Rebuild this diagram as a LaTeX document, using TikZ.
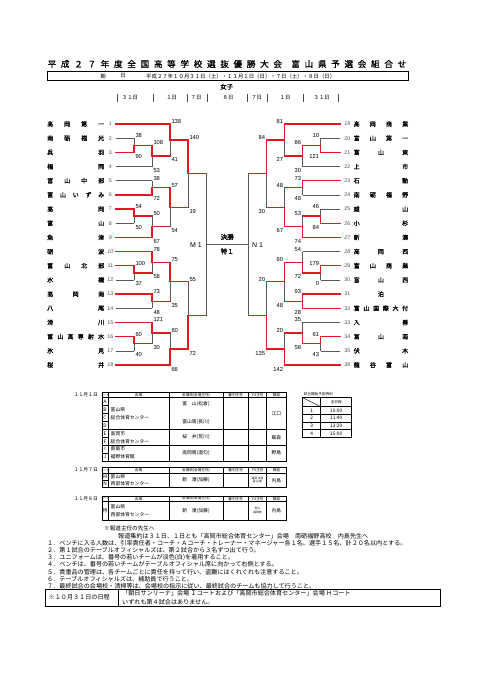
\documentclass[tikz,border=0pt]{standalone}
\usepackage{fontspec}
\setmainfont{Liberation Sans}
\newfontfamily\jp{Noto Sans CJK JP}
\newfontfamily\jpb[FakeBold=1.0]{Noto Sans CJK JP}
\definecolor{wred}{RGB}{228,24,32}
\definecolor{lgray}{RGB}{90,90,90}
\newcount\scn
% match: #1 side L/R, #2 x of join, #3 top y, #4 bottom y, #5 winner t/b, #6 top score, #7 bottom score
\newcommand\M[7]{%
  \pgfmathsetmacro\ym{(#3+#4)/2}%
  \if#1L\def\dx{18}\def\anct{south west}\def\ancb{north west}\def\lx{1.3}%
  \else\def\dx{-18}\def\anct{south east}\def\ancb{north east}\def\lx{-1.3}\fi
  \if#5t
    \draw[lose] (#2,\ym) -- (#2,#4);
    \draw[win] (#2,#3) -- (#2,\ym) -- ++(\dx,0);
  \else
    \draw[lose] (#2,#3) -- (#2,\ym);
    \draw[win] (#2,#4) -- (#2,\ym) -- ++(\dx,0);
  \fi
  \global\advance\scn by 1
  \node[score,anchor=\anct,name=sa\the\scn] at ([xshift=\lx,yshift=0.3]#2,#3) {#6};
  \node[score,anchor=\ancb,name=sb\the\scn] at ([xshift=\lx,yshift=-1.8]#2,#4) {#7};
}
\begin{document}
\begin{tikzpicture}[x=1pt,y=-1pt,
 win/.style={draw=wred,line width=1.3pt,line cap=rect},
 lose/.style={draw=lgray,line width=0.6pt},
 score/.style={font=\fontsize{5.8}{6}\selectfont,inner sep=0pt},
 tname/.style={font=\jpb\fontsize{6.0}{7}\selectfont,inner sep=0pt,anchor=west},
 tnum/.style={font=\fontsize{5.3}{6}\selectfont,inner sep=0pt,text=black!70},
 dtext/.style={font=\jp\fontsize{5.4}{6}\selectfont,inner sep=0pt},
 cell/.style={font=\jp\fontsize{4.8}{5.5}\selectfont,inner sep=0pt},
 hcell/.style={font=\jp\fontsize{3.6}{4}\selectfont,inner sep=0pt},
 tiny/.style={font=\jp\fontsize{2.8}{3.2}\selectfont,inner sep=0pt,align=center},
 note/.style={font=\jp\fontsize{6.1}{6.5}\selectfont,inner sep=0pt,anchor=west},
 tb/.style={line width=0.9pt},
 tt/.style={line width=0.45pt}]
\useasboundingbox (0,0) rectangle (481,680);
\fill[white] (0,0) rectangle (481,680);

% ---------- title ----------
\node[anchor=west,inner sep=0pt,font=\jpb\fontsize{8.6}{9}\selectfont] (title) at (47.5,64) {\makebox[358.5pt][s]{平\hfill 成\hfill ２\hfill ７\hfill 年\hfill 度\hfill 全\hfill 国\hfill 高\hfill 等\hfill 学\hfill 校\hfill 選\hfill 抜\hfill 優\hfill 勝\hfill 大\hfill 会\hfill\hfill 富\hfill 山\hfill 県\hfill 予\hfill 選\hfill 会\hfill 組\hfill 合\hfill せ}};
\draw[line width=0.9pt] (47,71.5) rectangle (408,80.3);
\node[dtext] (k1) at (103,76) {期};
\node[dtext] (k2) at (123,76) {日};
\node[dtext,anchor=west] (dates) at (146,76) {平成２７年１０月３１日（土）・１１月１日（日）・７日（土）・８日（日）};
\node[font=\jpb\fontsize{6.5}{7}\selectfont,inner sep=0pt] (joshi) at (226.7,86.7) {女子};
\foreach \xx in {116.7,152.7,186.7,206.7,247.3,266.7,303.3,338.3}
  \draw[line width=0.4pt,black!70] (\xx,94) -- (\xx,101.5);
\foreach \xx/\tx [count=\k] in {130/３１日,171.7/１日,196/７日,228/８日,256.7/７日,285/１日,321.7/３１日}
  \node[dtext,name=day\k] at (\xx,97.8) {\tx};

% ---------- team names ----------
\foreach \i/\nm/\f in {1/{高\hfill 岡\hfill 第\hfill 一}/1,2/{南\hfill 砺\hfill 福\hfill 光}/0,3/{呉\hfill 羽}/0,4/{福\hfill 岡}/0,5/{富\hfill 山\hfill 中\hfill 部}/0,6/{富\hfill 山\hfill い\hfill ず\hfill み}/0,7/{高\hfill 岡}/0,8/{富\hfill 山}/0,9/{魚\hfill 津}/1,10/{砺\hfill 波}/1,11/{富\hfill 山\hfill 北\hfill 部}/0,12/{水\hfill 橋}/0,13/{高\hfill 岡\hfill 南}/0,14/{八\hfill 尾}/0,15/{滑\hfill 川}/0,16/{富\hfill 山\hfill 高\hfill 専\hfill 射\hfill 水}/0,17/{氷\hfill 見}/0,18/{桜\hfill 井}/1}
{\pgfmathsetmacro\yy{124+(\i-1)*14.176}
 \node[tname,name=ln\i] at (47,\yy) {\makebox[57pt][s]{\nm}};
 \node[tnum,name=lk\i] at (110.3,\yy) {\ifnum\f=1 \itshape\fi\i};}
\foreach \i/\nm/\f in {19/{高\hfill 岡\hfill 商\hfill 業}/1,20/{富\hfill 山\hfill 第\hfill 一}/0,21/{富\hfill 山\hfill 東}/0,22/{上\hfill 市}/0,23/{石\hfill 動}/0,24/{南\hfill 砺\hfill 福\hfill 野}/0,25/{雄\hfill 山}/0,26/{小\hfill 杉}/0,27/{新\hfill 湊}/1,28/{高\hfill 岡\hfill 西}/1,29/{富\hfill 山\hfill 商\hfill 業}/0,30/{富\hfill 山\hfill 西}/0,31/{\hfill 泊\hfill}/0,32/{富\hfill 山\hfill 国\hfill 際\hfill 大\hfill 付}/0,33/{入\hfill 善}/0,34/{富\hfill 山\hfill 南}/0,35/{伏\hfill 木}/0,36/{龍\hfill 谷\hfill 富\hfill 山}/1}
{\pgfmathsetmacro\yy{124+(\i-19)*14.176}
 \node[tname,name=rn\i] at (353.5,\yy) {\makebox[54.5pt][s]{\nm}};
 \node[tnum,name=rk\i] at (347.3,\yy) {\ifnum\f=1 \itshape\fi\i};}

% ---------- team lines ----------
\foreach \i/\xe/\st in {1/170/win,2/134/lose,3/134/win,4/152/lose,5/152/lose,6/152/win,7/134/win,8/134/lose,9/152/win,10/152/win,11/134/win,12/134/lose,13/152/win,14/152/lose,15/152/win,16/134/win,17/134/lose,18/170/win}
{\pgfmathsetmacro\yy{124+(\i-1)*14.176}
 \draw[\st] (115.5,\yy) -- (\xe,\yy);}
\foreach \i/\xs/\st in {19/284.5/win,20/320.5/lose,21/320.5/win,22/302.5/lose,23/302.5/win,24/302.5/lose,25/320.5/lose,26/320.5/win,27/302.5/win,28/302.5/lose,29/320.5/win,30/320.5/lose,31/302.5/win,32/302.5/win,33/302.5/lose,34/320.5/win,35/320.5/lose,36/284.5/win}
{\pgfmathsetmacro\yy{124+(\i-19)*14.176}
 \draw[\st] (\xs,\yy) -- (340,\yy);}

% ---------- left bracket ----------
\M{L}{134}{138.176}{152.352}{b}{38}{90}
\M{L}{152}{145.264}{166.528}{t}{108}{53}
\M{L}{170}{124}{155.896}{t}{138}{41}
\M{L}{152}{180.704}{194.88}{b}{38}{72}
\M{L}{134}{209.056}{223.232}{t}{54}{50}
\M{L}{152}{216.144}{237.408}{b}{50}{67}
\M{L}{170}{187.792}{226.776}{t}{57}{54}
\M{L}{188}{139.948}{207.284}{t}{140}{19}
\M{L}{134}{265.76}{279.936}{t}{100}{37}
\M{L}{152}{251.584}{272.848}{t}{78}{58}
\M{L}{152}{294.112}{308.288}{t}{73}{48}
\M{L}{170}{262.216}{301.2}{t}{75}{35}
\M{L}{134}{336.64}{350.816}{t}{60}{40}
\M{L}{152}{322.464}{343.728}{t}{121}{30}
\M{L}{170}{333.096}{364.992}{b}{60}{66}
\M{L}{188}{281.708}{349.044}{b}{55}{72}
% ---------- right bracket ----------
\M{R}{320.5}{138.176}{152.352}{b}{10}{121}
\M{R}{302.5}{145.264}{166.528}{t}{86}{30}
\M{R}{284.5}{124}{155.896}{t}{81}{27}
\M{R}{302.5}{180.704}{194.88}{t}{73}{48}
\M{R}{320.5}{209.056}{223.232}{b}{46}{84}
\M{R}{302.5}{216.144}{237.408}{b}{53}{74}
\M{R}{284.5}{187.792}{226.776}{b}{48}{67}
\M{R}{266.5}{139.948}{207.284}{t}{84}{30}
\M{R}{320.5}{265.76}{279.936}{t}{179}{0}
\M{R}{302.5}{251.584}{272.848}{b}{54}{72}
\M{R}{302.5}{294.112}{308.288}{t}{93}{28}
\draw[win] (302.5,301.2) -- (302.5,308.288);
\M{R}{284.5}{262.216}{301.2}{t}{60}{48}
\M{R}{320.5}{336.64}{350.816}{t}{61}{43}
\M{R}{302.5}{322.464}{343.728}{b}{35}{58}
\M{R}{284.5}{333.096}{364.992}{b}{20}{142}
\M{R}{266.5}{281.708}{349.044}{b}{20}{135}

% ---------- semifinals and final ----------
\coordinate (m1t) at (206,173.616);
\coordinate (m1b) at (206,315.376);
\coordinate (n1t) at (248.5,173.616);
\coordinate (n1b) at (248.5,315.376);
\coordinate (m1) at (206,244.496);
\coordinate (n1) at (248.5,244.496);
\draw[lose] (m1t) -- (m1b);
\draw[lose] (n1t) -- (n1b);
\draw[lose] (m1) -- (n1);
\node[score,font=\fontsize{7}{8}\selectfont,anchor=east] (M1) at (202,244.8) {M 1};
\node[score,font=\fontsize{7}{8}\selectfont,anchor=west] (N1) at (252,244.8) {N 1};
\node[inner sep=0pt,font=\jpb\fontsize{6.5}{7}\selectfont] (kessho) at (227.25,237) {決勝};
\node[inner sep=0pt,font=\jpb\fontsize{6.5}{7}\selectfont] (toku) at (227.25,251.3) {特１};

% ---------- table 11/1 ----------
\node[cell,anchor=east] (d1) at (98,395) {１１月１日};
\draw[tt] (108,392.3)--(108,461) (169,392.3)--(169,461) (223,392.3)--(223,461) (248.3,392.3)--(248.3,461) (266.7,392.3)--(266.7,461);
\draw[tt] (102,429.4)--(286,429.4) (102,445.2)--(286,445.2);
\draw[tt] (102,405.7)--(108,405.7) (102,413.6)--(108,413.6) (102,421.5)--(108,421.5) (102,437.3)--(108,437.3) (102,453.1)--(108,453.1);
\draw[tb] (102,397.8)--(286,397.8);
\draw[tb] (108,392.3)--(108,397.8) (169,392.3)--(169,397.8) (223,392.3)--(223,397.8) (248.3,392.3)--(248.3,397.8) (266.7,392.3)--(266.7,397.8);
\draw[tb] (102,392.3) rectangle (286,461);
\node[tiny] (h1a) at (105,395.05) {コート};
\node[hcell] (h1b) at (138.5,395.05) {会場};
\node[hcell] (h1c) at (196,395.05) {会場校(会場主任)};
\node[hcell] (h1d) at (235.65,395.05) {審判主任};
\node[hcell] (h1e) at (257.5,395.05) {TO主任};
\node[hcell] (h1f) at (276.35,395.05) {報道};
\foreach \cl/\yy in {A/401.75,B/409.65,C/417.55,D/425.45,E/433.35,F/441.25,I/449.15,J/457.05}
  \node[cell,name=c\cl] at (105,\yy) {\cl};
\node[cell,anchor=west] (v1a) at (110.5,409.65) {富山県};
\node[cell,anchor=west] (v1b) at (110.5,417.55) {総合体育センター};
\node[cell,anchor=west] (v2a) at (110.5,433.35) {高岡市};
\node[cell,anchor=west] (v2b) at (110.5,441.25) {総合体育センター};
\node[cell,anchor=west] (v3a) at (110.5,449.15) {南砺市};
\node[cell,anchor=west] (v3b) at (110.5,457.05) {福野体育館};
\node[cell] (s1a) at (196,404) {富　山(松倉)};
\node[cell] (s1b) at (196,421.5) {富山南(長川)};
\node[cell] (s2) at (196,437.3) {桜　井(荒川)};
\node[cell] (s3) at (196,453.1) {高岡商(酒匂)};
\node[cell] (p1) at (276.35,413.5) {江口};
\node[cell] (p2) at (276.35,437.3) {飯森};
\node[cell] (p3) at (276.35,453.1) {野島};

% ---------- table 11/7 ----------
\node[cell,anchor=east] (d7) at (98,470.2) {１１月７日};
\draw[tt] (108,467.5)--(108,487.4) (169,467.5)--(169,487.4) (223,467.5)--(223,487.4) (248.3,467.5)--(248.3,487.4) (266.7,467.5)--(266.7,487.4);
\draw[tt] (102,480.2)--(108,480.2);
\draw[tb] (102,473)--(286,473);
\draw[tb] (108,467.5)--(108,473) (169,467.5)--(169,473) (223,467.5)--(223,473) (248.3,467.5)--(248.3,473) (266.7,467.5)--(266.7,473);
\draw[tb] (102,467.5) rectangle (286,487.4);
\node[tiny] (h7a) at (105,470.25) {コート};
\node[hcell] (h7b) at (138.5,470.25) {会場};
\node[hcell] (h7c) at (196,470.25) {会場校(会場主任)};
\node[hcell] (h7d) at (235.65,470.25) {審判主任};
\node[hcell] (h7e) at (257.5,470.25) {TO主任};
\node[hcell] (h7f) at (276.35,470.25) {報道};
\node[cell] (cM) at (105,476.6) {M};
\node[cell] (cN) at (105,483.8) {N};
\node[cell,anchor=west] (v7a) at (110.5,476.6) {富山県};
\node[cell,anchor=west] (v7b) at (110.5,483.8) {西部体育センター};
\node[cell] (s7) at (196,480.2) {新　湊(加藤)};
\node[tiny] (o7) at (257.5,480.2) {高岡 氷見\\富山 東};
\node[cell] (p7) at (276.35,480.2) {内島};

% ---------- table 11/8 ----------
\node[cell,anchor=east] (d8) at (98,498.8) {１１月８日};
\draw[tt] (108,496.5)--(108,520) (169,496.5)--(169,520) (223,496.5)--(223,520) (248.3,496.5)--(248.3,520) (266.7,496.5)--(266.7,520);
\draw[tb] (102,501)--(286,501);
\draw[tb] (108,496.5)--(108,501) (169,496.5)--(169,501) (223,496.5)--(223,501) (248.3,496.5)--(248.3,501) (266.7,496.5)--(266.7,501);
\draw[tb] (102,496.5) rectangle (286,520);
\node[tiny] (h8a) at (105,498.75) {コート};
\node[hcell] (h8b) at (138.5,498.75) {会場};
\node[hcell] (h8c) at (196,498.75) {会場校(会場主任)};
\node[hcell] (h8d) at (235.65,498.75) {審判主任};
\node[hcell] (h8e) at (257.5,498.75) {TO主任};
\node[hcell] (h8f) at (276.35,498.75) {報道};
\node[cell] (cT) at (105,510.5) {特};
\node[cell,anchor=west] (v8a) at (110.5,506.5) {富山県};
\node[cell,anchor=west] (v8b) at (110.5,514.5) {西部体育センター};
\node[cell] (s8) at (196,510.5) {新　湊(加藤)};
\node[tiny] (o8) at (257.5,510.5) {石山\\高岡商};
\node[cell] (p8) at (276.35,510.5) {内島};

% ---------- time table ----------
\node[hcell] (ttl) at (318.3,394.6) {試合開始予定時刻};
\draw[tt] (320.7,397.7)--(320.7,437.3);
\foreach \yy in {414.3,422,429.7} \draw[tt] (302.7,\yy)--(351.7,\yy);
\draw[tt] (302.7,397.7)--(320.7,406.7);
\draw[tb] (302.7,406.7)--(351.7,406.7);
\draw[tb] (302.7,397.7) rectangle (351.7,437.3);
\node[hcell] (tth) at (336.2,402.2) {全日程};
\foreach \n/\tm/\yy in {1/10:00/410.5,2/11:40/418.15,3/13:20/425.85,4/15:00/433.5}
{\node[cell,name=tn\n] at (311.7,\yy) {\n};
 \node[cell,name=tm\n] at (336.2,\yy) {\tm};}

% ---------- notes ----------
\node[note,font=\jp\fontsize{5.6}{6}\selectfont] (nh) at (104,528.5) {※報道主任の先生へ};
\node[note] (nr) at (118,536.5) {報道集約は３１日、１日とも「高岡市総合体育センター」会場　南砺福野高校　内島先生へ};
\node[note] (n1) at (47,543.3) {１．ベンチに入る人数は、引率責任者・コーチ・Ａコーチ・トレーナー・マネージャー各１名、選手１５名、計２０名以内とする。};
\node[note] (n2) at (47,550.4) {２．第１試合のテーブルオフィシャルズは、第２試合から３名ずつ出て行う。};
\node[note] (n3) at (47,557.5) {３．ユニフォームは、番号の若いチームが淡色(白)を着用すること。};
\node[note] (n4) at (47,564.6) {４．ベンチは、番号の若いチームがテーブルオフィシャル席に向かって右側とする。};
\node[note] (n5) at (47,571.7) {５．貴重品の管理は、各チームごとに責任を持って行い、盗難にはくれぐれも注意すること。};
\node[note] (n6) at (47,578.8) {６．テーブルオフィシャルズは、補助員で行うこと。};
\node[note] (n7) at (47,585.9) {７．最終試合の会場校・清掃等は、会場校の指示に従い、最終試合のチームも協力して行うこと。};
\draw[tt] (45,589) rectangle (440,606.5);
\draw[tt] (118,589)--(118,606.5);
\node[note] (b1) at (48.5,597.7) {※１０月３１日の日程};
\node[note] (b2) at (122,593.5) {「朝日サンリーナ」会場 Ｉコートおよび「高岡市総合体育センター」会場 Ｈコート};
\node[note] (b3) at (122,601.8) {いずれも第４試合はありません。};
\end{tikzpicture}
\end{document}
